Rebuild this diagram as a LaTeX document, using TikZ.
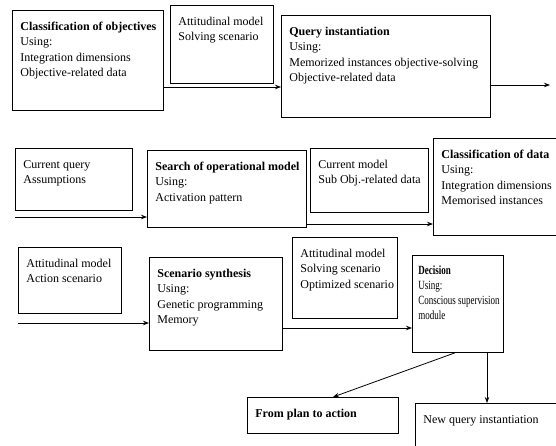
\documentclass[tikz,border=0pt]{standalone}
\usepackage{fontspec}
\setmainfont{Liberation Serif}
\usepackage{tikz}
\usetikzlibrary{arrows.meta,positioning,calc}

\newcommand{\hd}[1]{\textbf{#1}}
\newcommand{\boxlines}[3]{\parbox[c][#2pt][t]{#1pt}{\begin{tabular}[t]{@{}l@{}}#3\end{tabular}}}

\begin{document}
\begin{tikzpicture}[x=1pt, y=-1pt, >={Stealth[length=6pt,width=4.5pt]},
  bx/.style={draw,line width=0.8pt,anchor=north west,inner xsep=8pt,inner ysep=9pt,
    font=\fontsize{12}{15.5}\selectfont},
  narrow/.style={inner xsep=6pt,font=\fontsize{12.5}{15}\selectfont\addfontfeatures{FakeStretch=0.72}},
  arr/.style={->,line width=0.8pt}]
  \useasboundingbox (0,0) rectangle (556,445);
  % Top row
  \node[bx] (obj) at (12,10) {\boxlines{135}{82}{\hd{Classification of objectives}\\Using:\\Integration dimensions\\Objective-related data}};
  \node[bx] (att1) at (170,5) {\boxlines{87}{60}{Attitudinal model\\Solving scenario}};
  \node[bx] (query) at (281,15) {\boxlines{193}{84}{\hd{Query instantiation}\\Using:\\Memorized instances objective-solving\\Objective-related data}};
  \draw[arr] (obj.east |- 0,87) -- (query.west |- 0,87);
  \coordinate (qout) at (550,85);
  \draw[arr] (query.east |- qout) -- (qout);
  % Middle row
  \node[bx] (cur) at (15,148) {\boxlines{101}{44}{Current query\\Assumptions}};
  \node[bx] (search) at (147,150) {\boxlines{143}{59}{\hd{Search of operational model}\\Using:\\Activation pattern}};
  \node[bx] (curmod) at (310,148) {\boxlines{102}{46}{Current model\\Sub Obj.-related data}};
  \node[bx] (clsdata) at (433,138) {\boxlines{109}{79}{\hd{Classification of data}\\Using:\\Integration dimensions\\Memorised instances}};
  \coordinate (in1) at (15,217);
  \draw[arr] (in1) -- (search.west |- in1);
  \draw[arr] (search.east |- 0,224) -- (clsdata.west |- 0,224);
  % Bottom row
  \node[bx] (att2) at (18,247) {\boxlines{87}{48}{Attitudinal model\\Action scenario}};
  \node[bx] (scen) at (149,257) {\boxlines{117}{75}{\hd{Scenario synthesis}\\Using:\\Genetic programming\\Memory}};
  \node[bx] (att3) at (292,237) {\boxlines{89}{63}{Attitudinal model\\Solving scenario\\Optimized scenario}};
  \node[bx,narrow] (dec) at (412,255) {\boxlines{79}{79}{\hd{Decision}\\Using:\\Conscious supervision\\module}};
  \coordinate (in2) at (18,323);
  \draw[arr] (in2) -- (scen.west |- in2);
  \draw[arr] (scen.east |- 0,328) -- (dec.west |- 0,328);
  % Outcomes
  \node[bx] (plan) at (247,397) {\boxlines{135}{18}{\hd{From plan to action}}};
  \node[bx] (newq) at (415,403) {\boxlines{129}{32}{New query instantiation}};
  \draw[arr] (dec.south -| 455,0) -- (plan.north -| 333,0);
  \draw[arr] (dec.south -| 487,0) -- (newq.north -| 487,0);
\end{tikzpicture}
\end{document}
